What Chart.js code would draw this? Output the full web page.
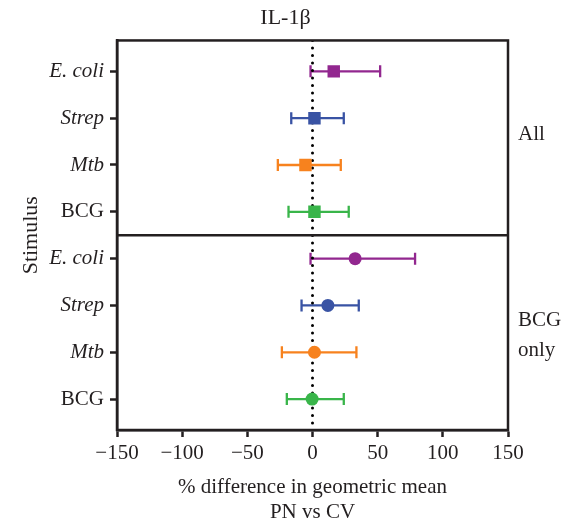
<!DOCTYPE html>
<html>
<head>
<meta charset="utf-8">
<script src="https://cdn.jsdelivr.net/npm/chart.js@4.4.1/dist/chart.umd.min.js"></script>
<style>
  html, body { margin: 0; padding: 0; background: #fff; }
  #wrap { width: 571px; height: 527px; }
</style>
</head>
<body>
<div id="wrap"><canvas id="il1bChart"></canvas></div>
<script>
// stimulus rows, top to bottom in each panel
const stimuli = ['E. coli', 'Strep', 'Mtb', 'BCG'];
const stimColors = ['#92278f', '#3953a4', '#f7821e', '#39b54a'];
const panels = ['All', 'BCG only'];

// % difference in geometric mean, PN vs CV (mean, lower, upper)
const allMean = [16.3, 1.5, -5.4, 1.5];
const allLo   = [-1.5, -16.3, -26.6, -18.4];
const allHi   = [51.9, 24.0, 21.7, 27.8];

const bcgMean = [32.7, 11.8, 1.5, -0.3];
const bcgLo   = [-1.5, -8.4, -23.5, -19.7];
const bcgHi   = [78.7, 35.5, 33.7, 24.0];

const xTicks = [-150, -100, -50, 0, 50, 100, 150];

const serif = "'Liberation Serif', 'Times New Roman', serif";
const ink = '#231f20';

// rows 1..4 = All, 5..8 = BCG only
const rowLabels = stimuli.concat(stimuli);
function toPoints(vals, offset) {
  return vals.map((v, i) => ({ x: v, y: i + 1 + offset }));
}

// error bars + frame + panel divider
const forestPlugin = {
  id: 'forest',
  beforeDatasetsDraw(chart) {
    const { ctx, scales: { x, y } } = chart;
    ctx.save();
    chart.data.datasets.forEach(ds => {
      if (!ds.lo) return;
      ds.data.forEach((p, i) => {
        const py = y.getPixelForValue(p.y);
        const x1 = x.getPixelForValue(ds.lo[i]);
        const x2 = x.getPixelForValue(ds.hi[i]);
        ctx.strokeStyle = stimColors[i];
        ctx.lineWidth = 2.3;
        ctx.beginPath();
        ctx.moveTo(x1, py); ctx.lineTo(x2, py);
        ctx.moveTo(x1, py - 6); ctx.lineTo(x1, py + 6);
        ctx.moveTo(x2, py - 6); ctx.lineTo(x2, py + 6);
        ctx.stroke();
      });
    });
    ctx.restore();
  },
  afterDraw(chart) {
    const { ctx, chartArea: a, scales: { y } } = chart;
    ctx.save();
    ctx.strokeStyle = ink;
    ctx.lineWidth = 2.5;
    ctx.strokeRect(a.left, a.top, a.right - a.left, a.bottom - a.top);
    const dy = y.getPixelForValue(4.5);
    ctx.beginPath();
    ctx.moveTo(a.left, dy); ctx.lineTo(a.right, dy);
    ctx.stroke();
    ctx.restore();
  }
};

new Chart(document.getElementById('il1bChart'), {
  type: 'scatter',
  data: {
    datasets: [
      {
        label: 'zero',
        type: 'line',
        data: [{ x: 0, y: 0.34 }, { x: 0, y: 8.66 }],
        borderColor: '#000',
        borderWidth: 3,
        borderDash: [0, 7.5],
        borderCapStyle: 'round',
        pointRadius: 0,
        order: 2
      },
      {
        label: panels[0],
        data: toPoints(allMean, 0),
        lo: allLo, hi: allHi,
        pointStyle: 'rect',
        pointRadius: 8.8,
        pointBackgroundColor: stimColors,
        pointBorderColor: stimColors,
        pointBorderWidth: 0,
        order: 1
      },
      {
        label: panels[1],
        data: toPoints(bcgMean, 4),
        lo: bcgLo, hi: bcgHi,
        pointStyle: 'circle',
        pointRadius: 6.5,
        pointBackgroundColor: stimColors,
        pointBorderColor: stimColors,
        pointBorderWidth: 0,
        order: 1
      }
    ]
  },
  options: {
    responsive: true,
    maintainAspectRatio: false,
    animation: false,
    layout: { padding: 0 },
    plugins: {
      legend: { display: false },
      tooltip: { enabled: false },
      title: {
        display: true,
        text: 'IL-1β',
        color: ink,
        font: { family: serif, size: 22, weight: 'normal', lineHeight: 1.2 },
        padding: { top: 3, bottom: 9 }
      }
    },
    scales: {
      x: {
        type: 'linear',
        min: -150,
        max: 150,
        afterBuildTicks: s => { s.ticks = xTicks.map(v => ({ value: v })); },
        afterFit: s => { s.height = 97; },
        border: { display: true, color: ink, width: 2.5 },
        grid: { drawOnChartArea: false, drawTicks: true, tickLength: 7, tickWidth: 2.5, tickColor: ink },
        ticks: {
          color: ink,
          padding: 4,
          maxRotation: 0,
          font: { family: serif, size: 21 },
          callback: v => String(v).replace('-', '\u2212')
        },
        title: {
          display: true,
          text: ['% difference in geometric mean', 'PN vs CV'],
          color: ink,
          font: { family: serif, size: 21, lineHeight: 1.2 },
          padding: { top: 4, bottom: 2 }
        }
      },
      y: {
        type: 'linear',
        reverse: true,
        min: 0.34,
        max: 8.66,
        afterBuildTicks: s => { s.ticks = rowLabels.map((_, i) => ({ value: i + 1 })); },
        afterFit: s => { s.width = 117; },
        border: { display: true, color: ink, width: 2.5 },
        grid: { drawOnChartArea: false, drawTicks: true, tickLength: 7, tickWidth: 2.5, tickColor: ink },
        ticks: {
          color: ink,
          padding: 6,
          font: ctx => ({
            family: serif,
            size: 21,
            style: (ctx.tick && rowLabels[ctx.tick.value - 1] !== 'BCG') ? 'italic' : 'normal'
          }),
          callback: v => rowLabels[v - 1]
        },
        title: {
          display: true,
          text: 'Stimulus',
          color: ink,
          font: { family: serif, size: 22 },
          padding: { top: 18, bottom: 4 }
        }
      },
      panel: {
        type: 'linear',
        position: 'right',
        reverse: true,
        min: 0.34,
        max: 8.66,
        afterBuildTicks: s => { s.ticks = [{ value: 2.34 }, { value: 6.64 }]; },
        afterFit: s => { s.width = 63; },
        border: { display: false },
        grid: { display: false, drawTicks: false },
        ticks: {
          color: ink,
          padding: 10,
          font: { family: serif, size: 21, lineHeight: 1.45 },
          callback: v => v < 4.5 ? panels[0] : panels[1].split(' ')
        }
      }
    }
  },
  plugins: [forestPlugin]
});
</script>
</body>
</html>
